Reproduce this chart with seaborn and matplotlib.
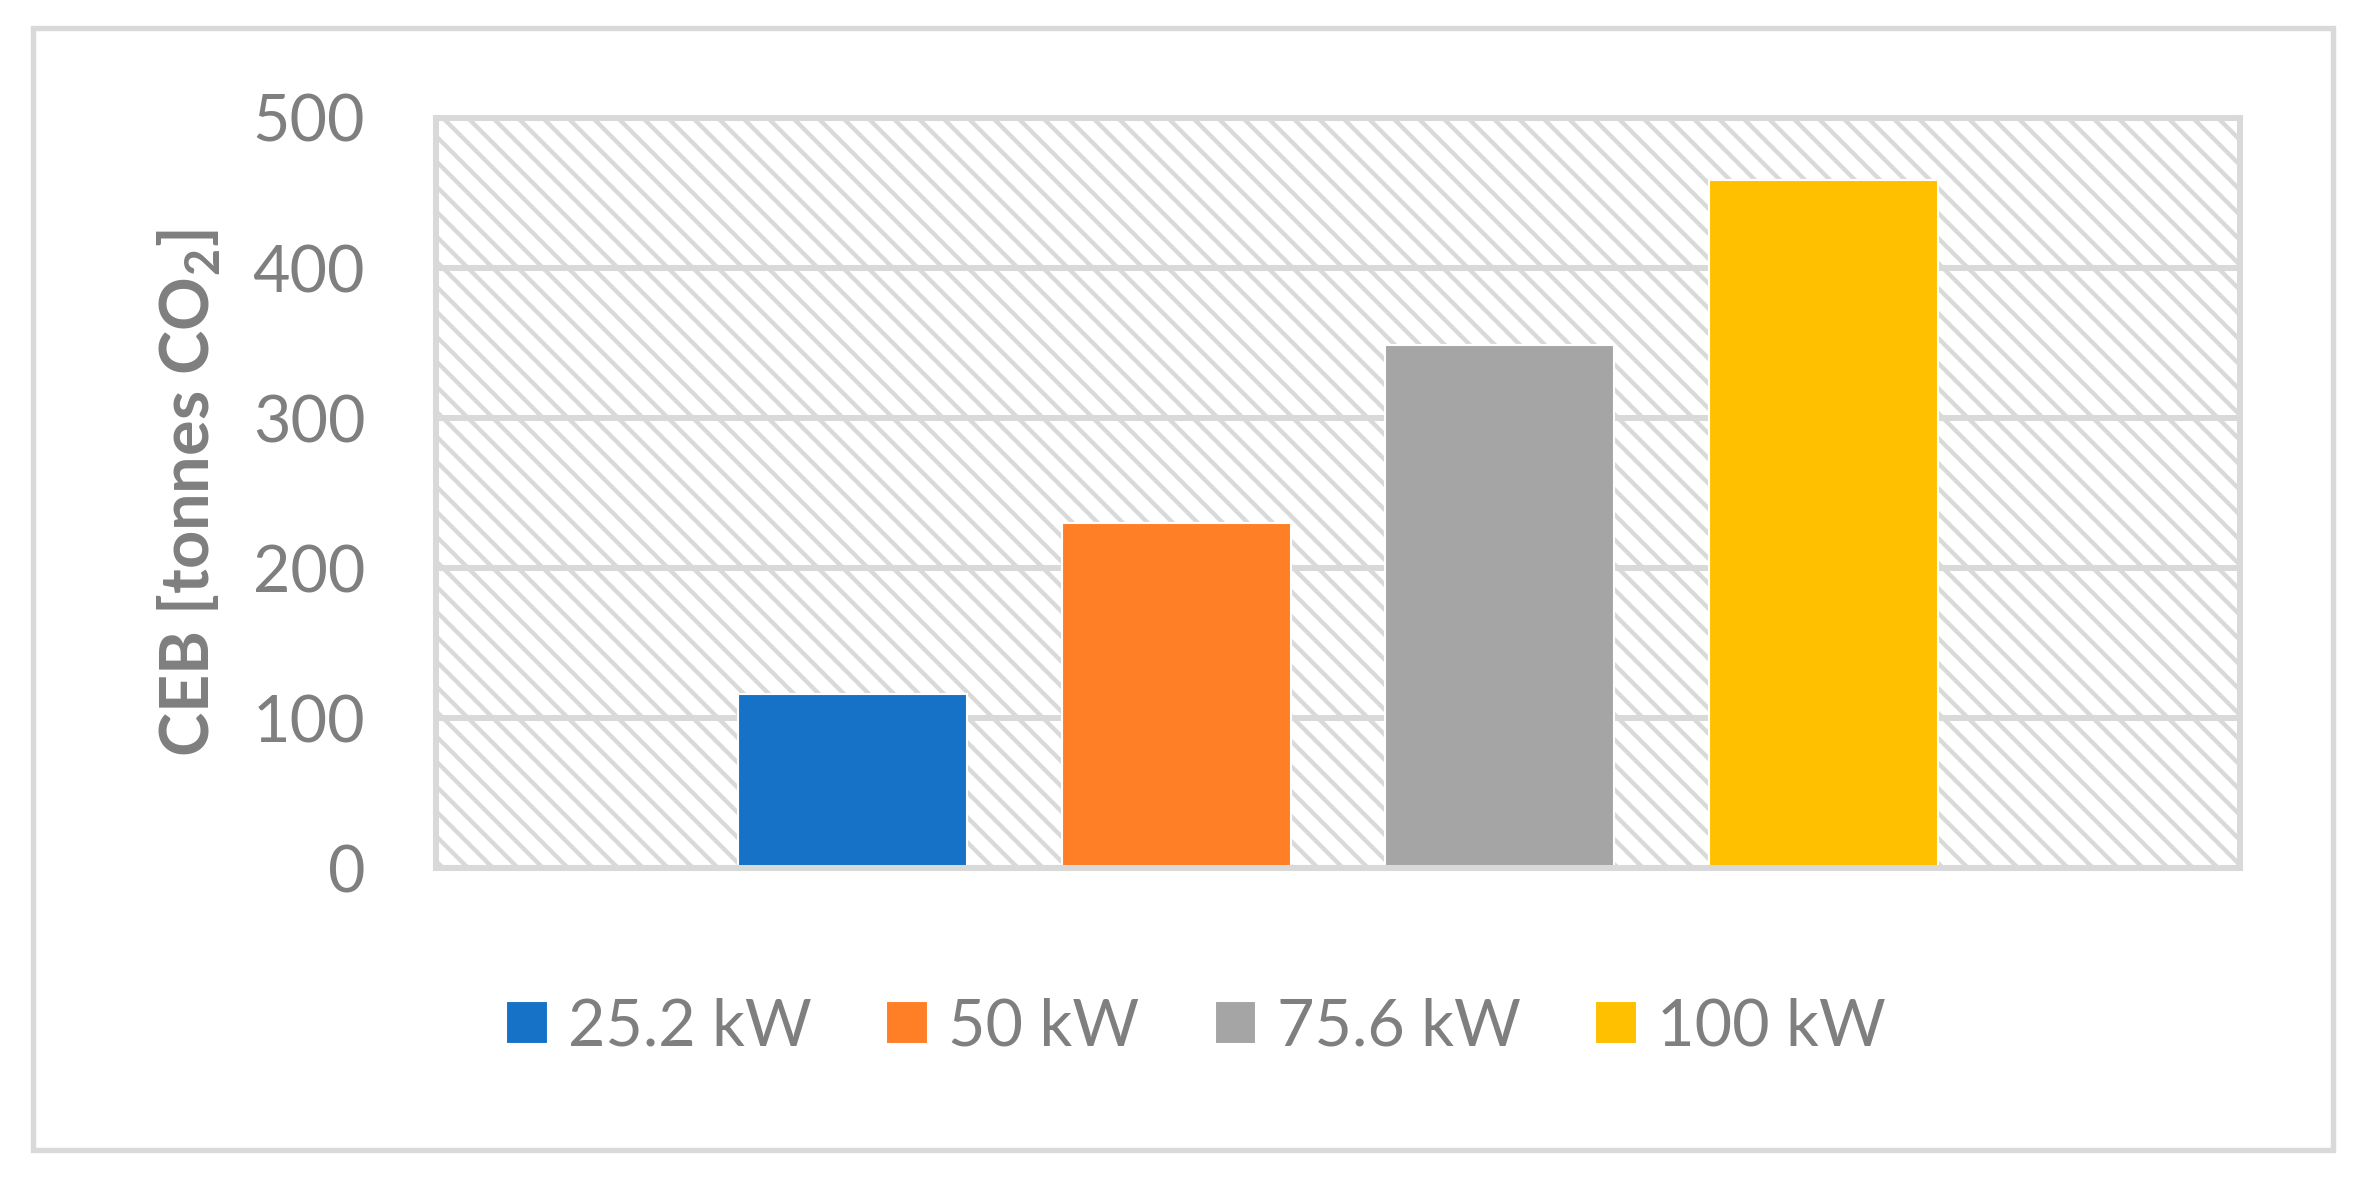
import pandas as pd
import matplotlib.pyplot as plt
import seaborn as sns
from matplotlib.patches import Rectangle

# Values
series = ['25.2 kW', '50 kW', '75.6 kW', '100 kW']
ceb_values = [116, 230, 349, 459]
bar_colors = ['#1572C6', '#FE7F26', '#A5A5A5', '#FFC000']
y_ticks = [0, 100, 200, 300, 400, 500]

df = pd.DataFrame({'group': [''] * len(series), 'series': series, 'ceb': ceb_values})

sns.set_style('white')
plt.rcParams['font.family'] = ['Lato', 'DejaVu Sans']
plt.rcParams['mathtext.fontset'] = 'custom'
plt.rcParams['mathtext.rm'] = 'Lato'
plt.rcParams['mathtext.bf'] = 'Lato:bold'
plt.rcParams['hatch.linewidth'] = 2.1
plt.rcParams['hatch.color'] = '#D9D9D9'

grey_text = '#7F7F7F'
line_grey = '#D9D9D9'

fig = plt.figure(figsize=(2371 / 150, 1180 / 150), dpi=150)
ax = fig.add_axes([0.1839, 0.2644, 0.9447 - 0.1839, 0.9000 - 0.2644])

# hatched plot background
ax.add_patch(Rectangle((0, 0), 1, 1, transform=ax.transAxes, facecolor='white',
                       edgecolor=line_grey, hatch='\\\\', lw=0, zorder=0.2))

sns.barplot(data=df, x='group', y='ceb', hue='series', hue_order=series,
            palette=bar_colors, saturation=1, width=0.718, gap=0.293,
            errorbar=None, ax=ax, zorder=2)

ax.set_xlim(-0.5, 0.5)
ax.set_ylim(0, 500)
ax.set_yticks(y_ticks)
ax.set_xticks([])
ax.set_xlabel('')
ax.tick_params(axis='y', length=0, pad=34, labelsize=31, labelcolor=grey_text)
ax.yaxis.grid(True, color=line_grey, lw=2.9)
ax.set_axisbelow(True)
for s in ax.spines.values():
    s.set_visible(True)
    s.set_color(line_grey)
    s.set_linewidth(2.9)

ax.set_ylabel(r'CEB [tonnes CO$_\mathbf{2}$]', fontsize=32, fontweight='bold', color=grey_text)
ax.yaxis.set_label_coords(-0.118, 0.5)

handles, labels = ax.get_legend_handles_labels()
ax.legend_.remove()
fig.legend(handles, labels, loc='center', bbox_to_anchor=(0.5044, 0.1297), ncol=4,
           frameon=False, fontsize=31, labelcolor=grey_text, handlelength=0.65,
           handleheight=0.65, handletextpad=0.31, columnspacing=1.16)

# outer chart border
fig.patches.append(Rectangle((33 / 2371, 1 - 1150 / 1180), 2300 / 2371, 1122 / 1180,
                             transform=fig.transFigure, fill=False,
                             edgecolor=line_grey, lw=2.6))

fig.savefig('out.png', dpi=150, facecolor='white')
